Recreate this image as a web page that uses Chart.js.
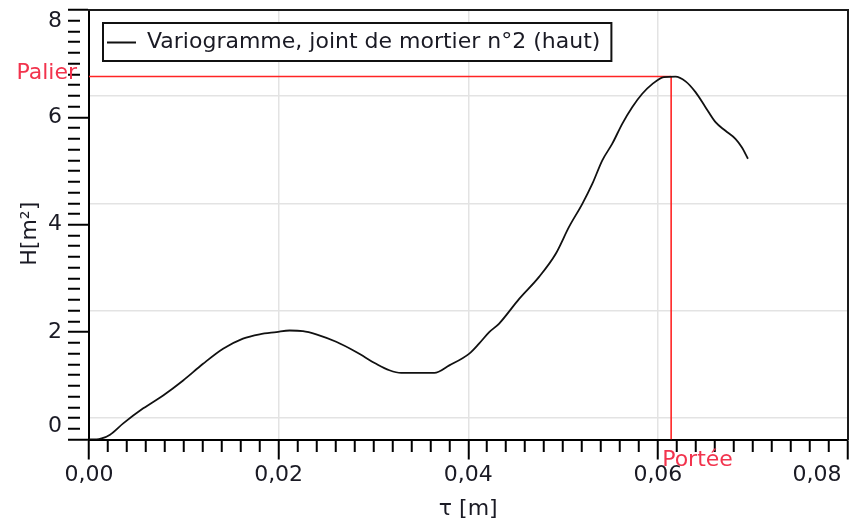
<!DOCTYPE html>
<html>
<head>
<meta charset="utf-8">
<script src="https://cdn.jsdelivr.net/npm/chart.js@4/dist/chart.umd.min.js"></script>
<style>
html,body{margin:0;padding:0;background:#fff;}
canvas{display:block;}
</style>
</head>
<body>
<canvas id="c" width="851" height="529"></canvas>
<script>
// ---- data ----
const tauValues = [0, 0.0008, 0.00134, 0.00222, 0.00361, 0.00572, 0.00782, 0.00993, 0.01203, 0.01414,
  0.01624, 0.0180, 0.01976, 0.02116, 0.02256, 0.02397, 0.02607, 0.02818, 0.03028, 0.03168,
  0.03292, 0.03519, 0.03642, 0.03800, 0.04011, 0.04116, 0.04221, 0.04326, 0.04537, 0.04747,
  0.04923, 0.05063, 0.05203, 0.05308, 0.05414, 0.05519, 0.05624, 0.05729, 0.05835, 0.0594,
  0.06063, 0.06186, 0.06292, 0.06397, 0.06502, 0.06608, 0.06713, 0.06818, 0.06887, 0.0695];
const variogramValues = [0, 0, 0.02, 0.09, 0.30, 0.58, 0.82, 1.10, 1.41, 1.69,
  1.88, 1.96, 2.00, 2.03, 2.02, 1.96, 1.82, 1.63, 1.41, 1.29,
  1.24, 1.24, 1.24, 1.38, 1.60, 1.79, 2.00, 2.16, 2.62, 3.03,
  3.46, 3.96, 4.39, 4.76, 5.20, 5.51, 5.88, 6.19, 6.44, 6.62,
  6.75, 6.76, 6.67, 6.47, 6.19, 5.91, 5.75, 5.60, 5.44, 5.23];
const palierValue = [6.76];
const porteeValue = [0.0614];
const xTickLabels = ['0,00', '0,02', '0,04', '0,06', '0,08'];
const yTickLabels = ['0', '2', '4', '6', '8'];
const seriesLabel = 'Variogramme, joint de mortier n°2 (haut)';
const xTitle = 'τ [m]';
const yTitle = 'H[m²]';
const annotationLabels = ['Palier', 'Portée'];

// ---- styling ----
const FONT = 'DejaVu Sans';
const TEXT = '#1a1a24';
const RED = '#ff2424';
const RED_TEXT = '#f2334d';
const GRID = '#e3e3e3';
const NONE = 'rgba(0,0,0,0)';
Chart.defaults.font.family = FONT;
Chart.defaults.font.size = 22;
Chart.defaults.color = TEXT;

function isMajor(v, step) {
  const r = v / step;
  return Math.abs(r - Math.round(r)) < 1e-6;
}

const PALIER = palierValue[0];
const PORTEE = porteeValue[0];
const curve = tauValues.map((t, i) => ({x: t, y: variogramValues[i]}));

const overlay = {
  id: 'overlay',
  afterLayout(chart) {
    const lg = chart.legend, a = chart.chartArea;
    if (!lg) return;
    lg.left = a.left + 18;
    lg.top = a.top + 21.5;
    lg.right = a.right;
    lg.bottom = a.bottom;
  },
  beforeDraw(chart) {
    const ys = chart.scales.y, xs = chart.scales.x;
    ys.getLabelItems().forEach(it => {
      if (it._adj) return;
      it._adj = true;
      if (it.label === yTickLabels[yTickLabels.length - 1]) it.options.translation[1] += 11;
      if (it.label === yTickLabels[0]) it.options.translation[1] -= 13.5;
    });
    xs.getLabelItems().forEach(it => {
      if (it._adj) return;
      it._adj = true;
      if (it.label === xTickLabels[xTickLabels.length - 1]) {
        it.options.textAlign = 'right';
        it.options.translation[0] -= 6;
      }
    });
  },
  afterDraw(chart) {
    const {ctx, chartArea: a} = chart;
    const lg = chart.legend;
    ctx.save();
    ctx.font = '22px "' + FONT + '"';
    const tw = ctx.measureText(seriesLabel).width;
    const bx = a.left + 14, by = a.top + 13, bw = 55 + tw, bh = 38;
    ctx.fillStyle = '#fff';
    ctx.fillRect(bx, by, bw, bh);
    ctx.strokeStyle = '#111';
    ctx.lineWidth = 2;
    ctx.strokeRect(bx, by, bw, bh);
    ctx.restore();
    if (lg) lg.draw();

    const ys = chart.scales.y, xs = chart.scales.x;
    ctx.save();
    ctx.font = '22px "' + FONT + '"';
    ctx.fillStyle = RED_TEXT;
    ctx.textBaseline = 'middle';
    ctx.textAlign = 'right';
    ctx.fillText(annotationLabels[0], a.left - 12, ys.getPixelForValue(PALIER) - 3.5);
    ctx.textAlign = 'left';
    ctx.fillText(annotationLabels[1], xs.getPixelForValue(PORTEE) - 9, a.bottom + 20.5);
    ctx.restore();
  }
};

new Chart(document.getElementById('c'), {
  type: 'scatter',
  data: {
    datasets: [
      { label: seriesLabel, data: curve, xAxisID: 'x', yAxisID: 'y', showLine: true,
        borderColor: '#111', backgroundColor: '#111', borderWidth: 1.8,
        pointRadius: 0, cubicInterpolationMode: 'monotone' },
      { label: annotationLabels[0], data: [{x: 0, y: PALIER}, {x: PORTEE, y: PALIER}], xAxisID: 'x', yAxisID: 'y',
        showLine: true, borderColor: RED, backgroundColor: RED, borderWidth: 1.6, pointRadius: 0 },
      { label: annotationLabels[1], data: [{x: PORTEE, y: PALIER}, {x: PORTEE, y: 0}], xAxisID: 'x', yAxisID: 'y',
        showLine: true, borderColor: RED, backgroundColor: RED, borderWidth: 1.6, pointRadius: 0 }
    ]
  },
  options: {
    responsive: false,
    animation: false,
    events: [],
    layout: { padding: { top: 10, right: 3.5, bottom: 0, left: 0 } },
    plugins: {
      legend: {
        position: 'chartArea', align: 'start',
        labels: { boxWidth: 29, boxHeight: 0, padding: 0, color: TEXT, font: {size: 22},
          filter: (item) => item.datasetIndex === 0 }
      },
      tooltip: { enabled: false }
    },
    scales: {
      x: {
        type: 'linear', position: 'bottom', min: 0, max: 0.08,
        afterFit(s) { s.height = 89.5; s.paddingLeft = 0; s.paddingRight = 0; },
        ticks: {
          stepSize: 0.002, autoSkip: false, maxRotation: 0, minRotation: 0, padding: 3,
          color: TEXT, font: {size: 22},
          callback(v) { return isMajor(v, 0.02) ? xTickLabels[Math.round(v / 0.02)] : ''; }
        },
        grid: {
          drawTicks: true, tickLength: 20, tickWidth: 2, tickColor: '#000', lineWidth: 1.5,
          tickBorderDash: (c) => (c.tick && isMajor(c.tick.value, 0.02)) ? [] : [11, 40],
          color: (c) => {
            if (!c.tick) return NONE;
            const v = c.tick.value;
            return (isMajor(v, 0.02) && v > 0.001 && v < 0.079) ? GRID : NONE;
          }
        },
        border: { display: true, color: '#000', width: 2 },
        title: { display: true, text: xTitle, color: TEXT, font: {size: 22}, padding: {top: 0, bottom: 7} }
      },
      y: {
        type: 'linear', position: 'left', min: 0, max: 8,
        afterFit(s) { s.width = 89; s.paddingTop = 0; s.paddingBottom = 0; },
        ticks: {
          stepSize: 0.2, autoSkip: false, padding: 6, color: TEXT, font: {size: 22},
          callback(v) { return isMajor(v, 2) ? yTickLabels[Math.round(v / 2)] : ''; }
        },
        grid: {
          drawTicks: true, tickLength: 21, tickWidth: 2, tickColor: '#000', lineWidth: 1.5,
          tickBorderDash: (c) => (c.tick && isMajor(c.tick.value, 2)) ? [] : [12, 40],
          color: (c) => {
            if (!c.tick) return NONE;
            const v = c.tick.value;
            return (isMajor(v - 0.4, 2) && v < 7) ? GRID : NONE;
          }
        },
        border: { display: true, color: '#000', width: 2 },
        title: { display: true, text: yTitle + '\u2002 ', color: TEXT, font: {size: 22}, padding: {top: 17, bottom: 0} }
      },
      x2: {
        type: 'linear', position: 'top', min: 0, max: 1,
        ticks: { display: false },
        grid: { display: false, drawTicks: false, drawOnChartArea: false },
        border: { display: true, color: '#1a1a1a', width: 2 }
      },
      y2: {
        type: 'linear', position: 'right', min: 0, max: 1,
        ticks: { display: false },
        grid: { display: false, drawTicks: false, drawOnChartArea: false },
        border: { display: true, color: '#1a1a1a', width: 2 }
      }
    }
  },
  plugins: [overlay]
});
</script>
</body>
</html>
